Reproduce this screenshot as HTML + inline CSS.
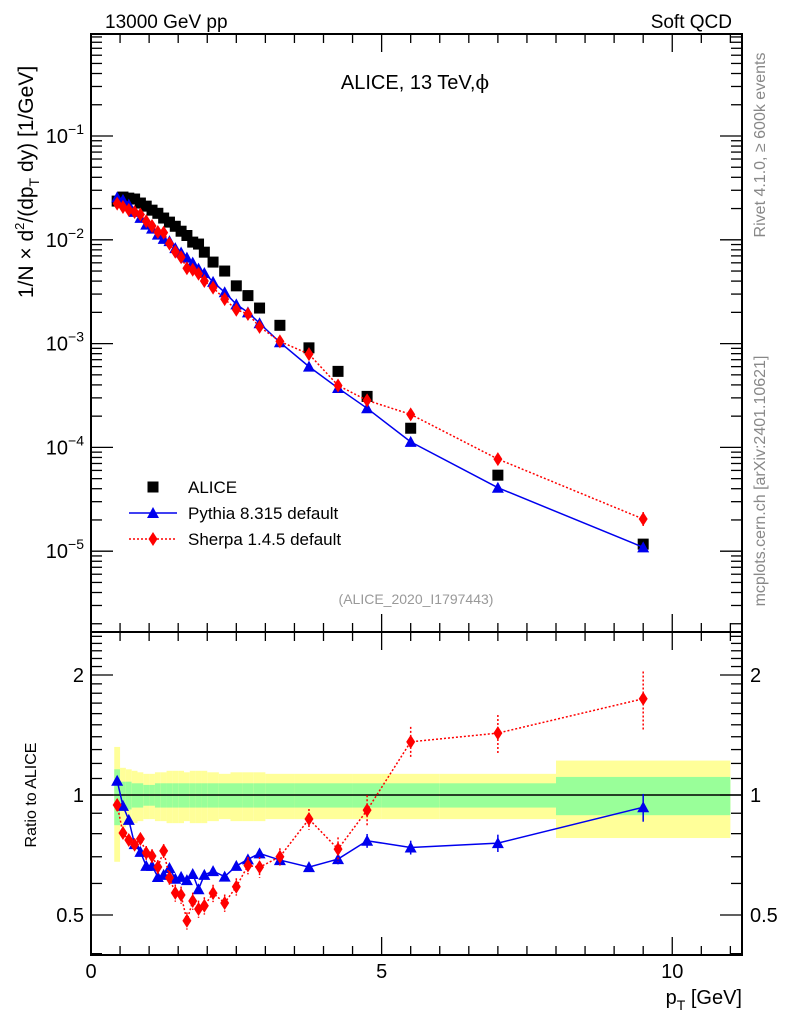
<!DOCTYPE html>
<html><head><meta charset="utf-8"><style>
html,body{margin:0;padding:0;background:#fff;}
svg{display:block;font-family:"Liberation Sans",sans-serif;}
</style></head><body>
<svg id="c" width="786" height="1024" viewBox="0 0 786 1024">
<text x="105" y="28" font-size="19">13000 GeV pp</text>
<text x="732" y="28" font-size="19" text-anchor="end">Soft QCD</text>
<text x="415" y="89" font-size="20" text-anchor="middle">ALICE, 13 TeV,<tspan font-family="DejaVu Serif,serif">ϕ</tspan></text>
<text transform="translate(33,182) rotate(-90)" font-size="21" text-anchor="middle">1/N × d<tspan font-size="13" dy="-9">2</tspan><tspan dy="9">/(dp</tspan><tspan font-size="14" dy="6">T</tspan><tspan dy="-6"> dy) [1/GeV]</tspan></text>
<text transform="translate(36,795) rotate(-90)" font-size="16" text-anchor="middle">Ratio to ALICE</text>
<text transform="translate(765,145) rotate(-90)" font-size="16" fill="#888" text-anchor="middle">Rivet 4.1.0, ≥ 600k events</text>
<text transform="translate(765,481) rotate(-90)" font-size="16" fill="#888" text-anchor="middle">mcplots.cern.ch [arXiv:2401.10621]</text>
<text x="416" y="604" font-size="14" fill="#999" text-anchor="middle">(ALICE_2020_I1797443)</text>
<text x="742" y="1004" font-size="20" text-anchor="end">p<tspan font-size="14" dy="6">T</tspan><tspan dy="-6"> [GeV]</tspan></text>
<g id="g"></g>
</svg>
<script>
const binLo=[0.4,0.5,0.6,0.7,0.8,0.9,1.0,1.1,1.2,1.3,1.4,1.5,1.6,1.7,1.8,1.9,2.0,2.2,2.4,2.6,2.8,3.0,3.5,4.0,4.5,5.0,6.0,8.0];
const binHi=[0.5,0.6,0.7,0.8,0.9,1.0,1.1,1.2,1.3,1.4,1.5,1.6,1.7,1.8,1.9,2.0,2.2,2.4,2.6,2.8,3.0,3.5,4.0,4.5,5.0,6.0,8.0,11.0];
const ptCenters=[0.45,0.55,0.65,0.75,0.85,0.95,1.05,1.15,1.25,1.35,1.45,1.55,1.65,1.75,1.85,1.95,2.1,2.3,2.5,2.7,2.9,3.25,3.75,4.25,4.75,5.5,7,9.5];
const aliceVals=[0.0236,0.0258,0.0252,0.0247,0.0226,0.0211,0.0193,0.018,0.0162,0.0148,0.0135,0.0121,0.011,0.0095,0.0091,0.0076,0.0061,0.005,0.0036,0.0029,0.0022,0.0015,0.00091,0.00054,0.00031,0.000153,5.4e-5,1.17e-5];
const aliceYellow=[0.32,0.17,0.16,0.15,0.14,0.13,0.13,0.14,0.14,0.15,0.15,0.15,0.14,0.15,0.15,0.15,0.14,0.13,0.14,0.14,0.14,0.13,0.13,0.13,0.13,0.13,0.13,0.22];
const aliceGreen=[0.16,0.08,0.08,0.07,0.07,0.06,0.06,0.07,0.07,0.07,0.07,0.07,0.07,0.07,0.07,0.07,0.07,0.07,0.07,0.07,0.07,0.07,0.07,0.07,0.07,0.07,0.07,0.11];
const pythiaVals=[0.02563,0.02423,0.02182,0.0186,0.01627,0.01401,0.01282,0.01121,0.01021,0.00971,0.00832,0.00754,0.00673,0.00602,0.00528,0.00479,0.00393,0.00312,0.00239,0.0020,0.00157,0.00103,0.0006,0.000373,0.000238,0.000113,4.09e-5,1.09e-5];
const pythiaErr=[0.02,0.02,0.02,0.02,0.02,0.02,0.02,0.02,0.02,0.02,0.02,0.02,0.02,0.02,0.02,0.02,0.02,0.02,0.02,0.02,0.02,0.02,0.02,0.03,0.04,0.04,0.05,0.08];
const sherpaVals=[0.02228,0.02072,0.01943,0.01853,0.01754,0.01511,0.01357,0.01188,0.01173,0.00918,0.00767,0.00679,0.00532,0.00515,0.00471,0.00401,0.00346,0.00268,0.00212,0.00193,0.00145,0.00105,0.000792,0.000395,0.000284,0.000208,7.72e-5,2.04e-5];
const sherpaErr=[0.03,0.03,0.03,0.03,0.03,0.04,0.04,0.04,0.04,0.04,0.05,0.05,0.05,0.05,0.05,0.05,0.05,0.05,0.05,0.05,0.06,0.05,0.06,0.07,0.09,0.09,0.11,0.17];
const ratioTicks=[0.5,1,2];
const ratioTickLabels=["0.5","1","2"];
const decadeExps=[-1,-2,-3,-4,-5];
const xTicks=[0,5,10];

const NS="http://www.w3.org/2000/svg";
const G=document.getElementById('g');
const L=91,R=742,T=34,M=632,B=955;
const xmax=11.2;
const X=v=>L+(R-L)*v/xmax;
const Ylog=v=>136+(-1-Math.log10(v))*103.8;
const Yr=r=>795-398.7*Math.log10(r);
function el(tag,attrs,parent){const e=document.createElementNS(NS,tag);for(const k in attrs)e.setAttribute(k,attrs[k]);(parent||G).appendChild(e);return e;}

const bandG=el('g',{});


binLo.forEach((lo,i)=>{
  const x0=X(lo),x1=X(binHi[i]);
  const y=el('rect',{x:x0,y:Yr(1+aliceYellow[i]),width:x1-x0,height:Yr(1-aliceYellow[i])-Yr(1+aliceYellow[i]),fill:'#ffff99'},bandG);
  
  
  const g=el('rect',{x:x0,y:Yr(1+aliceGreen[i]),width:x1-x0,height:Yr(1-aliceGreen[i])-Yr(1+aliceGreen[i]),fill:'#99ff99'},bandG);
  
  
});
const one=el('line',{x1:L,x2:R,y1:Yr(1),y2:Yr(1),stroke:'#000','stroke-width':1.5});



const f1=el('rect',{x:L,y:T,width:R-L,height:M-T,fill:'none',stroke:'#000','stroke-width':2});


const f2=el('rect',{x:L,y:M,width:R-L,height:B-M,fill:'none',stroke:'#000','stroke-width':2});



const tickG=el('g',{stroke:'#000','stroke-width':1.3});


for(let v=0;v<=11.01;v+=0.5){
  const x=X(v),maj=Math.abs(v%5)<0.01,len=maj?18:9;
  [[T,T+len],[M,M-len],[M,M+len],[B,B-len]].forEach(([a,b])=>el('line',{x1:x,x2:x,y1:a,y2:b},tickG));
}
xTicks.forEach(v=>{const t=el('text',{x:X(v),y:978,'font-size':20,'text-anchor':'middle'});t.textContent=String(v);

});

for(let e=0;e>=-6;e--){for(let m=1;m<=9;m++){const v=m*Math.pow(10,e-1);const y=Ylog(v);if(y<T||y>M)continue;const len=m==1?22:11;
el('line',{x1:L,x2:L+len,y1:y,y2:y},tickG);el('line',{x1:R,x2:R-len,y1:y,y2:y},tickG);}}
decadeExps.forEach(e=>{const t=el('text',{x:84,y:Ylog(Math.pow(10,e))+7,'font-size':20,'text-anchor':'end'});
t.innerHTML='10<tspan font-size="14" dy="-9">'+(e<0?'−':'')+Math.abs(e)+'</tspan>';

});

for(let k=4;k<=25;k++){const r=k/10;const y=Yr(r);if(y<M||y>B)continue;const maj=(k==5||k==10||k==20),len=maj?22:11;
el('line',{x1:L,x2:L+len,y1:y,y2:y},tickG);el('line',{x1:R,x2:R-len,y1:y,y2:y},tickG);}
ratioTicks.forEach((r,i)=>{
 const a=el('text',{x:84,y:Yr(r)+7,'font-size':20,'text-anchor':'end'});a.textContent=ratioTickLabels[i];
 
 
 const b=el('text',{x:750,y:Yr(r)+7,'font-size':20});b.textContent=ratioTickLabels[i];
 
 
});

function tri(x,y,c,p){return el('polygon',{points:`${x},${y-6} ${x-6},${y+5} ${x+6},${y+5}`,fill:c},p);}
function dia(x,y,c,p){return el('polygon',{points:`${x},${y-7} ${x-4.5},${y} ${x},${y+7} ${x+4.5},${y}`,fill:c},p);}
function series(vals,err,color,dash,shape,name,Yf,ratio){
  const g=el('g',{});
  
  
  const vs=vals.map((v,i)=>ratio?v/aliceVals[i]:v);
  const pts=ptCenters.map((p,i)=>X(p)+','+Yf(vs[i])).join(' ');
  const pl=el('polyline',{points:pts,fill:'none',stroke:color,'stroke-width':1.5},g);
  if(dash)pl.setAttribute('stroke-dasharray',dash);
  ptCenters.forEach((p,i)=>{
    const x=X(p),v=vs[i];
    const e=el('line',{x1:x,x2:x,y1:Yf(v*(1+err[i])),y2:Yf(v*(1-err[i])),stroke:color,'stroke-width':1.5},g);
    if(dash)e.setAttribute('stroke-dasharray',dash);
    const m=shape=='tri'?tri(x,Yf(v),color,g):dia(x,Yf(v),color,g);
    
    
  });
}
const ag=el('g',{});


ptCenters.forEach((p,i)=>{const s=el('rect',{x:X(p)-5.5,y:Ylog(aliceVals[i])-5.5,width:11,height:11,fill:'#000'},ag);

});
series(pythiaVals,pythiaErr,'#0000ee',null,'tri','pythia-series',Ylog,false);
series(sherpaVals,sherpaErr,'#ff0000','2,2','dia','sherpa-series',Ylog,false);
series(pythiaVals,pythiaErr,'#0000ee',null,'tri','pythia-ratio',Yr,true);
series(sherpaVals,sherpaErr,'#ff0000','2,2','dia','sherpa-ratio',Yr,true);

const lg=el('g',{});


const labels=['ALICE','Pythia 8.315 default','Sherpa 1.4.5 default'];
[487,513,539].forEach((y,i)=>{
  if(i==0){el('rect',{x:147.5,y:y-5.5,width:11,height:11,fill:'#000'},lg);}
  else{const c=i==1?'#0000ee':'#ff0000';const ln=el('line',{x1:129,x2:177,y1:y,y2:y,stroke:c,'stroke-width':1.5},lg);if(i==2)ln.setAttribute('stroke-dasharray','2,2');
   if(i==1)tri(153,y,c,lg);else dia(153,y,c,lg);}
  const t=el('text',{x:188,y:y+6,'font-size':17},lg);t.textContent=labels[i];
  
  
});
</script>
</body></html>
